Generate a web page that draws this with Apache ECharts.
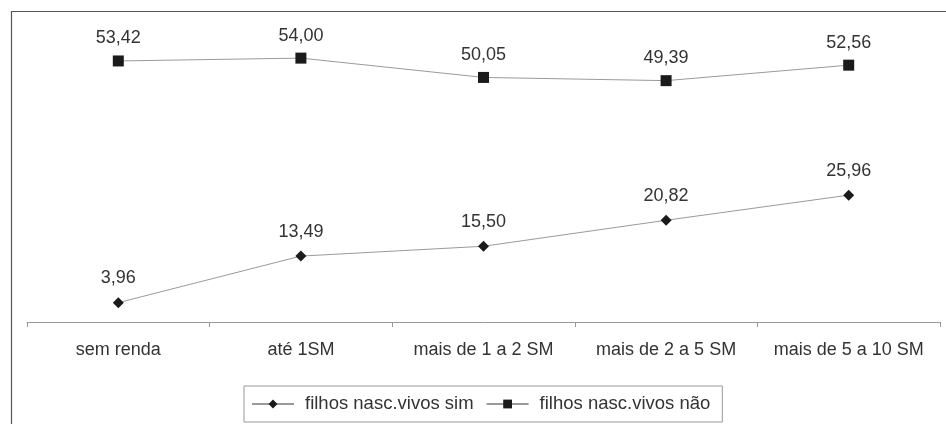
<!DOCTYPE html>
<html>
<head>
<meta charset="utf-8">
<script src="https://cdn.jsdelivr.net/npm/echarts@6/dist/echarts.min.js"></script>
<style>html,body{margin:0;padding:0;background:#fff;}#c{width:946px;height:424px;}</style>
</head>
<body>
<div id="c"></div>
<script>
var categories = ['sem renda', 'até 1SM', 'mais de 1 a 2 SM', 'mais de 2 a 5 SM', 'mais de 5 a 10 SM'];
var seriesSimName = 'filhos nasc.vivos sim';
var seriesNaoName = 'filhos nasc.vivos não';
var valuesSim = [3.96, 13.49, 15.50, 20.82, 25.96];
var valuesNao = [53.42, 54.00, 50.05, 49.39, 52.56];

var FONT = '"Liberation Sans", Arial, sans-serif';
function fmt(p) { return p.value.toFixed(2).replace('.', ','); }

var chart = echarts.init(document.getElementById('c'));
chart.setOption({
  animation: false,
  backgroundColor: '#fff',
  graphic: [{
    type: 'rect',
    shape: { x: 11.5, y: 11.5, width: 960, height: 460 },
    style: { fill: 'none', stroke: '#555', lineWidth: 1.2 },
    silent: true
  }],
  grid: { left: 27, right: 6, top: 28.8, bottom: 102 },
  legend: {
    data: [seriesSimName, seriesNaoName],
    left: 244, top: 386,
    orient: 'horizontal',
    padding: [8, 12, 8, 7],
    borderColor: '#999', borderWidth: 1,
    itemWidth: 42, itemHeight: 11, itemGap: 12,
    textStyle: { fontFamily: FONT, fontSize: 18.5, color: '#333', lineHeight: 20, padding: [0, 0, 0, 6] }
  },
  xAxis: {
    type: 'category',
    data: categories,
    boundaryGap: true,
    axisLine: { lineStyle: { color: '#999', width: 1 } },
    axisTick: { show: true, length: 5, interval: 0, lineStyle: { color: '#999' } },
    axisLabel: { interval: 0, fontFamily: FONT, fontSize: 18, color: '#333', margin: 19 }
  },
  yAxis: {
    type: 'value', min: 0, max: 60, show: false,
    splitLine: { show: false }
  },
  series: [{
    name: seriesSimName,
    type: 'line',
    data: valuesSim,
    symbol: 'diamond', symbolSize: 11,
    lineStyle: { color: '#9a9a9a', width: 1 },
    itemStyle: { color: '#1a1a1a' },
    label: { show: true, position: 'top', distance: 10, formatter: fmt, fontFamily: FONT, fontSize: 18, color: '#333' }
  }, {
    name: seriesNaoName,
    type: 'line',
    data: valuesNao,
    symbol: 'rect', symbolSize: 11,
    lineStyle: { color: '#9a9a9a', width: 1 },
    itemStyle: { color: '#1a1a1a' },
    label: { show: true, position: 'top', distance: 8, formatter: fmt, fontFamily: FONT, fontSize: 18, color: '#333' }
  }]
});
</script>
</body>
</html>
